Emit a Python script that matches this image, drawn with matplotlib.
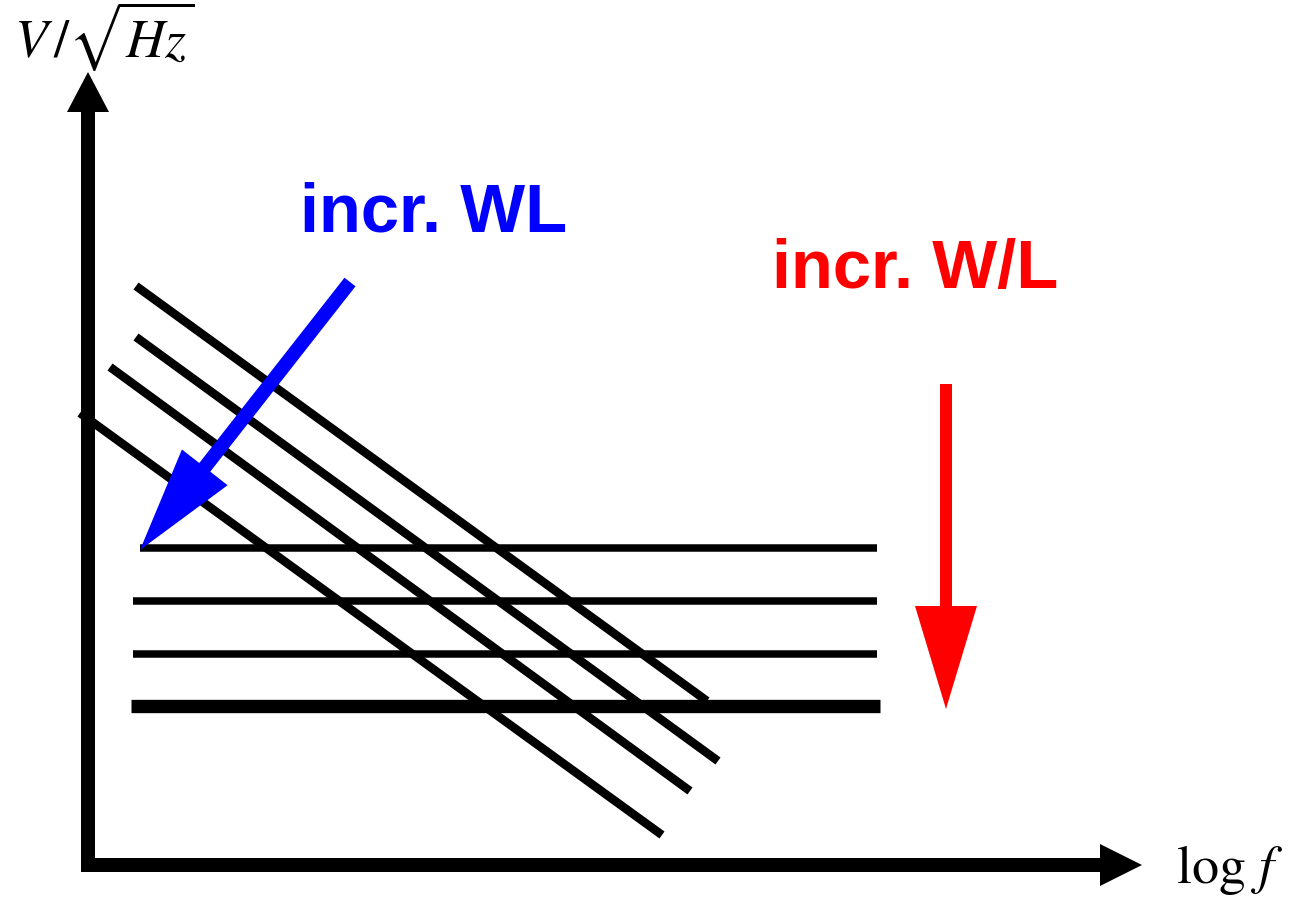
import matplotlib
matplotlib.use("Agg")
import matplotlib.pyplot as plt
from matplotlib.patches import FancyArrow

plt.rcParams["mathtext.fontset"] = "stix"

# Flicker-noise sketch, drawn in a canvas whose units are pixels (y grows downward)
W_PX, H_PX = 1297, 903

# Flat (thermal) noise floors: y-level, start x, end x, line width (pt)
floor_y = [549, 602, 655, 707]
floor_x0 = [140, 133, 133, 131]
floor_x1 = [877, 877, 877, 880]
floor_lw = [5.4, 5.4, 5.4, 9.6]

# 1/f noise slopes: start and end points
slope_start = [(136, 287), (136, 338), (110, 368), (80, 414)]
slope_end = [(707, 702), (718, 762), (690, 792), (662, 836)]

# Axes arrows: (tail, tip)
y_axis = ((88, 873), (88, 73))
x_axis = ((81, 866), (1142, 866))

# Trend arrows
blue_arrow = ((350, 283), (140, 551))
red_arrow = ((946, 385), (946, 710))

fig = plt.figure(figsize=(W_PX / 100, H_PX / 100), dpi=100)
ax = fig.add_axes([0, 0, 1, 1])
ax.set_xlim(0, W_PX)
ax.set_ylim(H_PX, 0)
ax.axis("off")

for (x0, y0), (x1, y1) in zip(slope_start, slope_end):
    ax.plot([x0, x1], [y0, y1], color="black", lw=6.2, solid_capstyle="butt", zorder=2)

for y, xa, xb, lw in zip(floor_y, floor_x0, floor_x1, floor_lw):
    ax.plot([xa, xb], [y, y], color="black", lw=lw, solid_capstyle="butt", zorder=2)


def arrow(tail, tip, width, head_w, head_l, color, z):
    (x0, y0), (x1, y1) = tail, tip
    ax.add_patch(FancyArrow(x0, y0, x1 - x0, y1 - y0, width=width,
                            head_width=head_w, head_length=head_l,
                            length_includes_head=True, color=color,
                            lw=0, zorder=z))


arrow(*y_axis, width=14, head_w=42, head_l=40, color="black", z=4)
arrow(*x_axis, width=14, head_w=42, head_l=42, color="black", z=4)
arrow(*blue_arrow, width=14, head_w=58, head_l=105, color="#0000ff", z=5)
arrow(*red_arrow, width=12, head_w=62, head_l=103, color="#ff0000", z=5)

ax.text(300, 232, "incr. WL", color="#0000ff", fontsize=49.5, fontweight="bold",
        family="Liberation Sans", ha="left", va="baseline")
ax.text(772, 288, "incr. W/L", color="#ff0000", fontsize=49.5, fontweight="bold",
        family="Liberation Sans", ha="left", va="baseline")

ax.text(14, 58, r"$V\,/\sqrt{Hz}$", fontsize=39, ha="left", va="baseline")
ax.text(1176, 883, r"$\log\,f$", fontsize=39, ha="left", va="baseline")

fig.savefig("out.png", dpi=100)
